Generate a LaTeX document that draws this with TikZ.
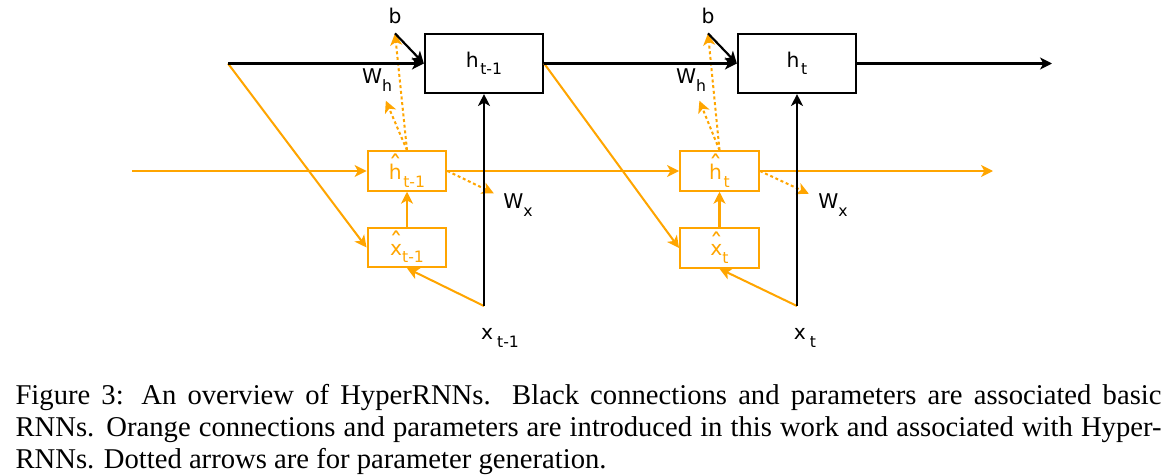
\documentclass[tikz,border=0pt]{standalone}
\usepackage{fontspec}
\setmainfont{Liberation Serif}
\newfontfamily\dejavu{DejaVu Sans}
\usetikzlibrary{arrows.meta}
\definecolor{hyperorange}{RGB}{255,165,0}
\newcommand{\lowsub}[1]{\raisebox{-2.8pt}{\fontsize{5.8}{6}\selectfont #1}}
\newcommand{\capped}[3]{\rule{0pt}{#3}\ooalign{#1\cr\hidewidth\raisebox{#2}{\fontsize{10}{10}\selectfont\char"02C6}\hidewidth\cr}}

\begin{document}
\begin{tikzpicture}[x=0.37pt,y=-0.37pt,
      font=\dejavu\fontsize{7.5}{8}\selectfont,
      >={Stealth[length=4.4pt,width=4.4pt,inset=1.2pt]},
      cell/.style={draw,line width=0.8pt,minimum width=43.7pt,
        minimum height=21.8pt,inner sep=0pt},
      hyper/.style={draw=hyperorange,text=hyperorange,line width=0.75pt,
        minimum width=29.2pt,minimum height=14.6pt,inner sep=0pt},
      basic/.style={line width=0.8pt,->},
      hyperline/.style={hyperorange,line width=0.75pt,->},
      gen/.style={hyperorange,line width=0.75pt,
        dash pattern=on 1.1pt off 1pt,->}]
      \useasboundingbox (0,0) rectangle (1169,476);
      % basic RNN cells
      \path (484,63.5) node[cell] (hprev) {h\hspace{0.6pt}\lowsub{t-1}};
      \path (797,63.5) node[cell] (hcur) {h\hspace{0.6pt}\lowsub{t}};
      % hyper RNN cells
      \path (407,171) node[hyper] (hhprev) {\capped{h}{1.6pt}{9.2pt}\hspace{0.6pt}\lowsub{t-1}};
      \path (407,247.5) node[hyper] (xhprev) {\capped{x}{0.8pt}{8.4pt}\lowsub{t-1}};
      \path (719.5,171) node[hyper] (hhcur) {\capped{h}{1.6pt}{9.2pt}\hspace{0.6pt}\lowsub{t}};
      \path (719.5,248) node[hyper] (xhcur) {\capped{x}{0.8pt}{8.4pt}\lowsub{t}};
      % parameters and inputs
      \path (395,16) node (bprev) {b};
      \path (708,16) node (bcur) {b};
      \path (377,80) node (whprev) {W\lowsub{h}};
      \path (691,80) node (whcur) {W\lowsub{h}};
      \path (518,205) node (wxprev) {W\lowsub{x}};
      \path (833,205) node (wxcur) {W\lowsub{x}};
      \path (500,338) node (xprev) {x\hspace{1.5pt}\lowsub{t-1}};
      \path (805,338) node (xcur) {x\hspace{1.5pt}\lowsub{t}};
      \coordinate (hin) at (228,63.5);
      \coordinate (hout) at (1052,63.5);
      \coordinate (oin) at (132,171);
      \coordinate (oout) at (993,171);
      \coordinate (xinprev) at (484,306);
      \coordinate (xincur) at (797,306);
      % orange connections
      \draw[hyperline] (oin) -- (hhprev);
      \draw[hyperline] (hhprev) -- (hhcur);
      \draw[hyperline] (hhcur) -- (oout);
      \draw[hyperline] (hin) -- (xhprev.west);
      \draw[hyperline] (hprev.east) -- (xhcur.west);
      \draw[hyperline] (xhprev) -- (hhprev);
      \draw[hyperline] (xhcur) -- (hhcur);
      \draw[hyperline] (xinprev) -- (xhprev.south);
      \draw[hyperline] (xincur) -- (xhcur.south);
      % parameter generation
      \draw[gen] (hhprev.north) -- (bprev.south);
      \draw[gen] (hhprev.north) -- (whprev);
      \draw[gen] (hhprev.east) -- (wxprev);
      \draw[gen] (hhcur.north) -- (bcur.south);
      \draw[gen] (hhcur.north) -- (whcur);
      \draw[gen] (hhcur.east) -- (wxcur);
      % black connections
      \draw[basic] (hin) -- (hprev);
      \draw[basic] (hprev) -- (hcur);
      \draw[basic] (hcur) -- (hout);
      \draw[basic] (bprev.south) -- (hprev.west);
      \draw[basic] (bcur.south) -- (hcur.west);
      \draw[basic] (xinprev) -- (hprev.south);
      \draw[basic] (xincur) -- (hcur.south);
      % caption
      \path (15,384) node[anchor=north west,inner sep=0pt,text width=424pt,
        align=justify,font=\rmfamily\fontsize{10.6}{11.84}\selectfont] (caption)
        {\hyphenpenalty=10000 Figure 3: An overview of HyperRNNs. Black
        connections and parameters are associated basic\linebreak RNNs.
        Orange connections and parameters are introduced in this work and
        associated with Hyper-\linebreak RNNs. Dotted arrows are for
        parameter generation.};
     \end{tikzpicture}
\end{document}
